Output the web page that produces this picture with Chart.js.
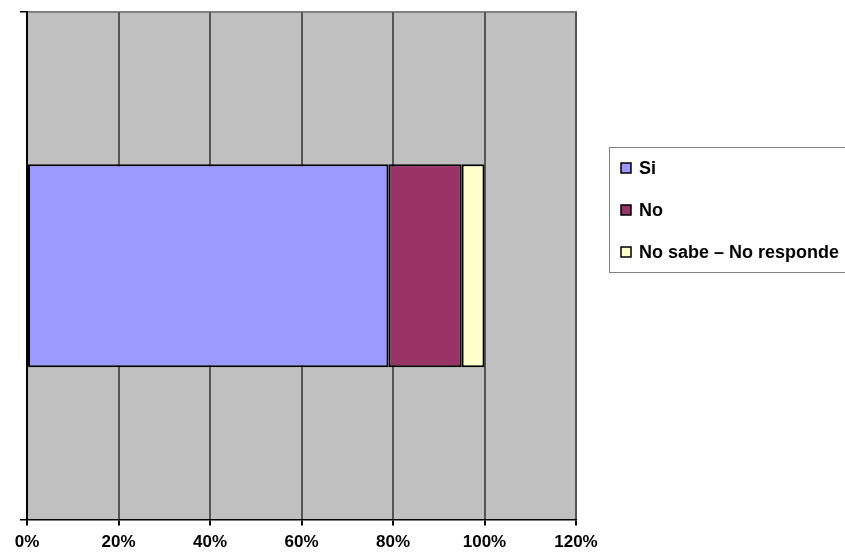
<!DOCTYPE html>
<html>
<head>
<meta charset="utf-8">
<script src="https://cdn.jsdelivr.net/npm/chart.js@4.4.0/dist/chart.umd.min.js"></script>
<style>
  html, body { margin: 0; padding: 0; background: #fff; }
  #wrap { width: 845px; height: 559px; }
</style>
</head>
<body>
<div id="wrap"><canvas id="surveyChart" width="845" height="559"></canvas></div>
<script>
const categories = [""];
const seriesNames = ["Si", "No", "No sabe – No responde"];
const siValues = [79];
const noValues = [16];
const nsnrValues = [5];
const xTicks = [0, 20, 40, 60, 80, 100, 120];

const fillColors = ["#9999ff", "#993366", "#ffffcc"];

// gray plot background and border
const plotBackground = {
  id: "plotBackground",
  beforeDraw(chart) {
    const { ctx, chartArea: a } = chart;
    ctx.save();
    ctx.fillStyle = "#c0c0c0";
    ctx.fillRect(a.left, a.top, a.right - a.left, a.bottom - a.top);
    ctx.strokeStyle = "#808080";
    ctx.lineWidth = 2;
    ctx.beginPath();
    ctx.moveTo(a.left, a.top);
    ctx.lineTo(a.right, a.top);
    ctx.lineTo(a.right, a.bottom);
    ctx.stroke();
    ctx.restore();
  },
};

// boxed legend on the right, like the spreadsheet one
const boxLegend = {
  id: "boxLegend",
  afterDraw(chart) {
    const { ctx, chartArea: a } = chart;
    const left = a.right + 33;
    const top = 147;
    ctx.save();
    ctx.strokeStyle = "#808080";
    ctx.lineWidth = 1;
    ctx.strokeRect(left + 0.5, top + 0.5, 260, 125);
    ctx.font = "bold 18px 'Liberation Sans', Arial, sans-serif";
    ctx.textBaseline = "middle";
    chart.data.datasets.forEach((ds, i) => {
      const y = top + 21 + i * 42;
      ctx.fillStyle = ds.backgroundColor;
      ctx.fillRect(left + 12, y - 5, 10, 10);
      ctx.strokeStyle = "#000";
      ctx.lineWidth = 1.5;
      ctx.strokeRect(left + 12, y - 5, 10, 10);
      ctx.fillStyle = "#000";
      ctx.fillText(ds.label, left + 30, y + 1);
    });
    ctx.restore();
  },
};

const ctx = document.getElementById("surveyChart").getContext("2d");

new Chart(ctx, {
  type: "bar",
  data: {
    labels: categories,
    datasets: [
      { label: seriesNames[0], data: siValues, backgroundColor: fillColors[0] },
      { label: seriesNames[1], data: noValues, backgroundColor: fillColors[1] },
      { label: seriesNames[2], data: nsnrValues, backgroundColor: fillColors[2] },
    ].map((d) => Object.assign(d, {
      borderColor: "#000",
      borderWidth: 2,
      borderSkipped: false,
      barPercentage: 0.4,
      categoryPercentage: 1,
    })),
  },
  options: {
    indexAxis: "y",
    responsive: false,
    animation: false,
    layout: { padding: { left: 20, top: 12, right: 269, bottom: -1 } },
    scales: {
      x: {
        stacked: true,
        min: 0,
        max: 120,
        afterBuildTicks: (scale) => {
          scale.ticks = xTicks.map((v) => ({ value: v }));
        },
        grid: {
          color: "#555",
          lineWidth: 2,
          tickLength: 6,
          tickColor: "#000",
        },
        border: { color: "#000", width: 1.5 },
        ticks: {
          color: "#000",
          padding: 7,
          font: { family: "'Liberation Sans', Arial, sans-serif", size: 17, weight: "bold" },
          callback: (v) => v + "%",
        },
      },
      y: {
        stacked: true,
        offset: true,
        grid: {
          offset: true,
          drawOnChartArea: false,
          tickLength: 7,
          tickColor: "#000",
          lineWidth: 1.5,
        },
        border: { color: "#000", width: 2 },
        ticks: { display: false },
      },
    },
    plugins: {
      legend: { display: false },
      tooltip: { enabled: false },
    },
  },
  plugins: [plotBackground, boxLegend],
});
</script>
</body>
</html>
